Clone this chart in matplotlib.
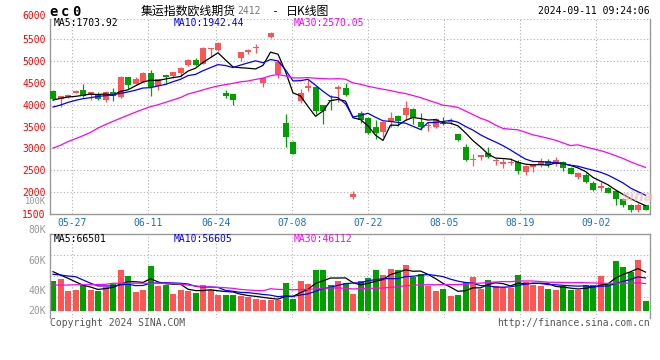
import numpy as np
import pandas as pd
import matplotlib
matplotlib.use("Agg")
import matplotlib.pyplot as plt

# daily K-line of ec0, 80 sessions ending 2024-09-11
opens = [4308, 4135, 4180, 4280, 4345, 4215, 4250, 4120, 4300, 4170,
         4625, 4480, 4530, 4730, 4420, 4680, 4660, 4730, 4920, 5035,
         4940, 5285, 5265, 4265, 4235, 5070, 5210, 5310, 4500, 5545,
         4700, 3570, 3140, 4085, 4390, 4400, 3985, 4115, 4370, 4385,
         1880, 3805, 3690, 3500, 3380, 3610, 3740, 3755, 3895, 3610,
         3510, 3480, 3590, 3610, 3325, 3040, 2735, 2790, 2900, 2700,
         2650, 2665, 2680, 2450, 2565, 2625, 2700, 2640, 2680, 2550,
         2335, 2390, 2205, 2100, 2090, 2010, 1840, 1710, 1575, 1690]
highs = [4330, 4200, 4245, 4345, 4465, 4295, 4290, 4310, 4390, 4650,
         4640, 4640, 4760, 4805, 4590, 4690, 4760, 4860, 5040, 5080,
         5315, 5310, 5440, 4330, 4240, 5220, 5290, 5400, 4620, 5665,
         5020, 3780, 3175, 4350, 4600, 4430, 4000, 4230, 4450, 4490,
         2015, 3860, 3730, 3640, 3630, 3825, 3770, 4080, 3925, 3810,
         3615, 3690, 3730, 3690, 3330, 3100, 2870, 2850, 3040, 2785,
         2755, 2780, 2735, 2610, 2650, 2780, 2755, 2795, 2700, 2560,
         2465, 2430, 2245, 2220, 2105, 2055, 1850, 1720, 1740, 1700]
lows = [4116, 3940, 4160, 4270, 4180, 4100, 4110, 4070, 4090, 4150,
        4370, 4470, 4520, 4190, 4330, 4465, 4620, 4640, 4880, 4895,
        4935, 5090, 5230, 4160, 3990, 5000, 5170, 5190, 4405, 5520,
        4620, 3030, 2860, 4050, 4320, 3780, 3550, 3890, 4070, 4195,
        1830, 3590, 3320, 3215, 3270, 3495, 3520, 3660, 3560, 3430,
        3390, 3460, 3525, 3555, 3170, 2705, 2600, 2730, 2770, 2620,
        2550, 2620, 2400, 2380, 2450, 2580, 2565, 2600, 2490, 2400,
        2285, 2205, 2030, 2030, 1975, 1700, 1650, 1550, 1550, 1580]
closes = [4139, 4190, 4230, 4325, 4195, 4285, 4130, 4300, 4190, 4630,
          4460, 4590, 4730, 4410, 4580, 4645, 4750, 4850, 5035, 4905,
          5310, 5305, 5410, 4205, 4110, 5215, 5245, 5330, 4610, 5635,
          4980, 3255, 2880, 4265, 4420, 3855, 3855, 4080, 4400, 4225,
          1945, 3650, 3345, 3350, 3615, 3705, 3620, 3915, 3685, 3495,
          3530, 3665, 3560, 3630, 3190, 2730, 2765, 2845, 2810, 2730,
          2680, 2685, 2490, 2600, 2640, 2715, 2625, 2740, 2550, 2410,
          2425, 2220, 2055, 2130, 1985, 1840, 1705, 1575, 1710, 1590]
volumes = [46000, 47300, 39300, 40000, 43300, 40000, 39300, 42200, 44000, 53300,
           49300, 38700, 40000, 56200, 42700, 43300, 37300, 40000, 39300, 38200,
           43300, 40000, 36700, 36700, 36700, 36000, 35500, 34000, 33300, 33300,
           33300, 44700, 34000, 46000, 44000, 53300, 53300, 43300, 46000, 44500,
           37300, 46000, 48200, 53300, 50000, 54000, 53300, 56700, 48500, 50700,
           42900, 39300, 40700, 36000, 36700, 45100, 48700, 40700, 46700, 42900,
           42200, 41100, 50000, 45100, 43300, 42900, 40700, 40000, 42700, 40000,
           40000, 43300, 43300, 49300, 44500, 59300, 55500, 52200, 60000, 32700]

# MA values at the first candles (their windows start before the chart)
ma5_head = [4108, 4146, 4177, 4192]
ma10_head = [3947, 3993, 4054, 4100, 4139, 4162, 4192, 4208, 4231]
ma30_head = [3005, 3070, 3155, 3220, 3290, 3365, 3465, 3545, 3620, 3690,
             3760, 3830, 3895, 3955, 4000, 4055, 4110, 4165, 4245, 4290,
             4340, 4390, 4430, 4462, 4490, 4525, 4545, 4580, 4610]
vma5_head = [52200, 50000, 47800, 45500]
vma10_head = [50500, 50000, 49300, 48900, 46700, 44500, 42700, 42700, 42700]
vma30_head = [43300, 43300, 43300, 43500, 43500, 43500, 43600, 43800, 44500, 44500,
              44500, 44500, 44500, 44500, 44500, 44500, 44500, 44000, 43300, 42700,
              42200, 41800, 41800, 41500, 41100, 40400, 40000, 39700, 39500]

date_labels = ['05-27', '06-11', '06-24', '07-08', '07-22', '08-05', '08-19', '09-02']
date_idx = [3, 13, 22, 32, 42, 52, 62, 72]
price_ticks = [1500, 2000, 2500, 3000, 3500, 4000, 4500, 5000, 5500]

RED = '#ff5454'
GREEN = '#00a000'
GRID = '#b0b0b0'
MONO = 'DejaVu Sans Mono'
CJK = ['Noto Sans CJK SC', 'DejaVu Sans']


def moving_avg(values, n, head):
    s = pd.Series(values, dtype=float).rolling(n).mean()
    s.iloc[:n - 1] = head
    return s.values


W, H = 660, 360
fig = plt.figure(figsize=(W / 100, H / 100), dpi=100, facecolor='white')


def fx(x):
    return x / W


def fy(y):
    return 1 - y / H


x = np.arange(len(closes))
o = np.array(opens, float)
c = np.array(closes, float)
up = c >= o
colors = np.where(up, RED, GREEN)

# sina's date grid runs a touch wider than the candle step
grid_x = [(72 + (i - 3) * 7.59 - 53) / 7.5 for i in date_idx]

# ---- price panel
ax = fig.add_axes([fx(50), fy(213.7), fx(600), fy(19.3) - fy(213.7)])
ax.set_xlim(-0.4, 79.6)
ax.set_ylim(1500, 5960)
for yv in price_ticks[1:]:
    ax.axhline(yv, color=GRID, lw=0.8, ls=(0, (1, 2)), zorder=0)
ax.axhline(5960, color=GRID, lw=0.8, ls=(0, (1, 2)), zorder=0)
for gx in grid_x:
    ax.axvline(gx, color=GRID, lw=0.8, ls=(0, (1, 2)), zorder=0)

ax.vlines(x, lows, highs, colors=colors, lw=0.9, zorder=2)
body = np.maximum(np.abs(c - o), 18)
ax.bar(x, body, bottom=np.minimum(o, c), width=0.8, color=colors, lw=0, zorder=3)

ax.plot(x, moving_avg(closes, 5, ma5_head), color='black', lw=0.9, zorder=4)
ax.plot(x, moving_avg(closes, 10, ma10_head), color='#0000ff', lw=0.9, zorder=4)
ax.plot(x, moving_avg(closes, 30, ma30_head), color='#ff00ff', lw=0.9, zorder=4)

ax.set_yticks(price_ticks)
ax.set_yticklabels([str(t) for t in price_ticks], color='#ff0000', fontsize=7, family=MONO)
ax.set_xticks(grid_x)
ax.set_xticklabels(date_labels, color='#1a6fc4', fontsize=7, family=MONO)
ax.tick_params(length=0, pad=3)
for sp in ax.spines.values():
    sp.set_color('#999999')
    sp.set_linewidth(1)
ax.spines['top'].set_visible(False)

# ---- volume panel
axv = fig.add_axes([fx(50), fy(318), fx(600), fy(234) - fy(318)])
axv.set_xlim(-0.4, 79.6)
vol_floor = 26000
axv.set_ylim(21333, 77333)
for f in [0.25, 0.5, 0.75]:
    axv.plot([0, 1], [f, f], transform=axv.transAxes, color=GRID, lw=0.8, ls=(0, (1, 2)), zorder=0)
for gx in grid_x:
    axv.axvline(gx, color=GRID, lw=0.8, ls=(0, (1, 2)), zorder=0)
v = np.array(volumes, float)
axv.bar(x, v - vol_floor, bottom=vol_floor, width=0.8, color=colors, lw=0, zorder=2)
axv.plot(x, moving_avg(volumes, 5, vma5_head), color='black', lw=0.9, zorder=4)
axv.plot(x, moving_avg(volumes, 10, vma10_head), color='#0000ff', lw=0.9, zorder=4)
axv.plot(x, moving_avg(volumes, 30, vma30_head), color='#ff00ff', lw=0.9, zorder=4)
axv.set_xticks([])
axv.set_yticks([40000, 60000])
axv.set_yticklabels(['40K', '60K'], color='#999999', fontsize=7, family=MONO)
axv.tick_params(length=0, pad=3)
for sp in axv.spines.values():
    sp.set_color('#999999')
    sp.set_linewidth(1)
axv.spines['bottom'].set_visible(False)

# labels the reference sets outside the tick positions
for py, txt, col, fs in [(15.7, '6000', '#ff0000', 7), (201, '100K', '#999999', 6.3),
                         (230, '80K', '#999999', 7), (311, '20K', '#999999', 7)]:
    fig.text(fx(46), fy(py), txt, fontsize=fs, family=MONO, color=col, ha='right', va='center')

# ---- header and labels
fig.text(fx(49), fy(11.5), 'e', fontsize=10, weight='bold', family=MONO, va='center')
fig.text(fx(61), fy(11.5), 'c', fontsize=10, weight='bold', family=MONO, va='center')
fig.text(fx(72), fy(11.5), '0', fontsize=10, weight='bold', family=MONO, va='center')
fig.text(fx(141), fy(11), '集运指数欧线期货', fontsize=8.6, family=CJK, va='center')
fig.text(fx(237), fy(11.5), '2412', fontsize=7, family=MONO, color='#777777', va='center')
fig.text(fx(271), fy(11), '-', fontsize=8, family=MONO, va='center')
fig.text(fx(286), fy(11), '日K线图', fontsize=8.6, family=CJK, va='center')
fig.text(fx(650), fy(11.5), '2024-09-11 09:24:06', fontsize=7, family=MONO, ha='right', va='center')

for px_, txt, col in [(54, 'MA5:1703.92', 'black'), (174, 'MA10:1942.44', '#0000ff'),
                      (294, 'MA30:2570.05', '#ff00ff')]:
    fig.text(fx(px_), fy(23.5), txt, fontsize=7, family=MONO, color=col, va='center')
for px_, txt, col in [(54, 'MA5:66501', 'black'), (174, 'MA10:56605', '#0000ff'),
                      (294, 'MA30:46112', '#ff00ff')]:
    fig.text(fx(px_), fy(239), txt, fontsize=7, family=MONO, color=col, va='center')

fig.text(fx(50), fy(323.5), 'Copyright 2024 SINA.COM', fontsize=7, family=MONO,
         color='#555555', va='center')
fig.text(fx(650), fy(323.5), 'http://finance.sina.com.cn', fontsize=7, family=MONO,
         color='#555555', ha='right', va='center')
fig.text(fx(622), fy(197), 'sina', fontsize=10, weight='bold', style='italic',
         color='#f3b8b8', alpha=0.7, va='center')

fig.savefig('out.png', dpi=100, facecolor='white')
